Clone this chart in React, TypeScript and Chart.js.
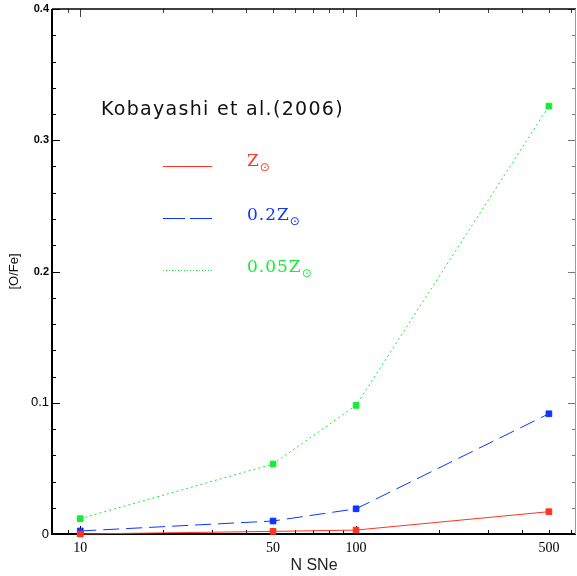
import { useEffect, useRef } from 'react';
import { Chart, registerables } from 'chart.js';

Chart.register(...registerables);

// ---- data ----
const nSNe = [10, 50, 100, 500];
const solarZ = [0.0, 0.002, 0.003, 0.017];
const z02 = [0.0023, 0.0099, 0.0192, 0.0916];
const z005 = [0.0117, 0.0533, 0.098, 0.326];
const seriesNames = ['Z', '0.2Z', '0.05Z'];
const seriesColors = ['#ff3322', '#0a36ff', '#11ee33'];
const xTickLabels = [10, 50, 100, 500];
const yTickLabels = [0, 0.1, 0.2, 0.3, 0.4];
const xMajorTicks = [10, 100];
const xMinorTicks = [9, 20, 30, 40, 50, 60, 70, 80, 90, 200, 300, 400, 500, 600];
const yMinorTicks = [0.02, 0.04, 0.06, 0.08, 0.12, 0.14, 0.16, 0.18, 0.22, 0.24, 0.26, 0.28, 0.32, 0.34, 0.36, 0.38];
const refText = 'Kobayashi et al.(2006)';

const framePlugin = {
  id: 'frame',
  beforeDatasetsDraw(chart: any) {
    const { ctx, chartArea: a, scales } = chart;
    const x = scales.x;
    const y = scales.y;
    ctx.save();
    ctx.setLineDash([]);
    const yt = (v: number, len: number) => {
      const py = Math.round(y.getPixelForValue(v)) + 0.5;
      ctx.strokeStyle = '#000';
      ctx.lineWidth = 1;
      ctx.beginPath();
      ctx.moveTo(a.left, py);
      ctx.lineTo(a.left + len, py);
      ctx.stroke();
      ctx.strokeStyle = '#777';
      ctx.beginPath();
      ctx.moveTo(a.right, py);
      ctx.lineTo(a.right - len, py);
      ctx.stroke();
    };
    yTickLabels.forEach((v) => yt(v, 8));
    yMinorTicks.forEach((v) => yt(v, 4));
    const xt = (v: number, len: number) => {
      const px = Math.round(x.getPixelForValue(v)) + 0.5;
      ctx.strokeStyle = '#000';
      ctx.lineWidth = 1;
      ctx.beginPath();
      ctx.moveTo(px, a.bottom);
      ctx.lineTo(px, a.bottom - len);
      ctx.stroke();
      ctx.strokeStyle = '#444';
      ctx.beginPath();
      ctx.moveTo(px, a.top);
      ctx.lineTo(px, a.top + len);
      ctx.stroke();
    };
    xMajorTicks.forEach((v) => xt(v, 8));
    xMinorTicks.forEach((v) => xt(v, 4));
    ctx.strokeStyle = '#000';
    ctx.lineWidth = 2;
    ctx.beginPath();
    ctx.moveTo(a.left, a.top);
    ctx.lineTo(a.left, a.bottom);
    ctx.lineTo(a.right, a.bottom);
    ctx.stroke();
    ctx.lineWidth = 1.5;
    ctx.beginPath();
    ctx.moveTo(a.left, a.top);
    ctx.lineTo(a.right, a.top);
    ctx.stroke();
    ctx.strokeStyle = '#999';
    ctx.lineWidth = 1;
    ctx.beginPath();
    ctx.moveTo(a.right - 0.5, a.top);
    ctx.lineTo(a.right - 0.5, a.bottom);
    ctx.stroke();
    ctx.restore();
  },
  afterDraw(chart: any) {
    const { ctx } = chart;
    ctx.save();
    ctx.fillStyle = '#111';
    ctx.textBaseline = 'alphabetic';
    ctx.textAlign = 'left';
    ctx.font = '19px "DejaVu Sans"';
    (ctx as any).letterSpacing = '1.3px';
    ctx.fillText(refText, 101, 115);
    const lineYs = [166.5, 218.5, 270.5];
    const baseYs = [166, 220, 272];
    const dashes = [[], [22, 5], [1, 2]];
    seriesNames.forEach((name, i) => {
      ctx.strokeStyle = seriesColors[i];
      ctx.lineWidth = 1;
      ctx.setLineDash(dashes[i]);
      ctx.beginPath();
      ctx.moveTo(163, lineYs[i]);
      ctx.lineTo(212, lineYs[i]);
      ctx.stroke();
      ctx.setLineDash([]);
      ctx.fillStyle = seriesColors[i];
      ctx.font = '17px "DejaVu Serif"';
      (ctx as any).letterSpacing = '1px';
      ctx.textBaseline = 'alphabetic';
      ctx.fillText(name, 247, baseYs[i]);
      const w = ctx.measureText(name).width;
      ctx.font = '12px "DejaVu Sans"';
      (ctx as any).letterSpacing = '0px';
      ctx.textBaseline = 'middle';
      ctx.fillText('\u2299', 247 + w, baseYs[i] + 2);
    });
    ctx.restore();
  },
};

export default function App() {
  const ref = useRef<HTMLCanvasElement>(null);
  useEffect(() => {
    if (!ref.current) return;
    const mk = (vals: number[]) => nSNe.map((x, i) => ({ x, y: vals[i] }));
    const dsDash = [[], [16, 7], [2, 3]];
    const chart = new Chart(ref.current, {
      type: 'line',
      data: {
        datasets: [solarZ, z02, z005].map((vals, i) => ({
          label: seriesNames[i],
          data: mk(vals),
          borderColor: seriesColors[i],
          backgroundColor: seriesColors[i],
          borderWidth: 1,
          borderDash: dsDash[i],
          pointStyle: 'rect',
          pointRadius: 4,
          pointBorderWidth: 1,
          pointBackgroundColor: seriesColors[i],
          pointBorderColor: seriesColors[i],
          tension: 0,
          fill: false,
          clip: false as any,
        })),
      },
      options: {
        animation: false,
        responsive: false,
        devicePixelRatio: 1,
        layout: { autoPadding: false, padding: { top: 9, right: 1, left: 0, bottom: 0 } },
        plugins: { legend: { display: false }, tooltip: { enabled: false } },
        scales: {
          x: {
            type: 'logarithmic',
            min: 7.9,
            max: 627,
            afterBuildTicks: (s: any) => {
              s.ticks = xTickLabels.map((v) => ({ value: v }));
            },
            afterFit: (s: any) => {
              s.height = 42;
              s.paddingLeft = 0;
              s.paddingRight = 0;
            },
            ticks: {
              callback: (v: any) => String(v),
              font: { family: 'Liberation Serif', size: 14 },
              color: '#000',
              padding: 6,
              autoSkip: false,
              maxRotation: 0,
            },
            grid: { display: false, drawTicks: false },
            border: { display: false },
            title: {
              display: true,
              text: 'N SNe',
              font: { family: 'Liberation Sans', size: 16 },
              color: '#222',
              padding: { top: 0, bottom: 1 },
            },
          },
          y: {
            type: 'linear',
            min: 0,
            max: 0.4,
            afterBuildTicks: (s: any) => {
              s.ticks = yTickLabels.map((v) => ({ value: v }));
            },
            afterFit: (s: any) => {
              s.width = 52;
              s.paddingTop = 0;
              s.paddingBottom = 0;
            },
            ticks: {
              callback: (v: any) => (v === 0 ? '0' : Number(v).toFixed(1)),
              font: (c: any) =>
                c.tick && c.tick.value >= 0.15
                  ? { family: 'Liberation Sans', size: 11, weight: 'bold' }
                  : { family: 'Liberation Sans', size: 13 },
              color: '#000',
              padding: 3,
            },
            grid: { display: false, drawTicks: false },
            border: { display: false },
            title: {
              display: true,
              text: '[O/Fe]',
              font: { family: 'Liberation Sans', size: 13 },
              color: '#111',
              padding: { top: 7, bottom: 0 },
            },
          },
        },
      },
      plugins: [framePlugin],
    });
    return () => chart.destroy();
  }, []);
  return (
    <div style={{ position: 'fixed', left: 0, top: 0, width: 577, height: 576, background: '#fff' }}>
      <canvas ref={ref} width={577} height={576} style={{ display: 'block', width: 577, height: 576 }} />
    </div>
  );
}
